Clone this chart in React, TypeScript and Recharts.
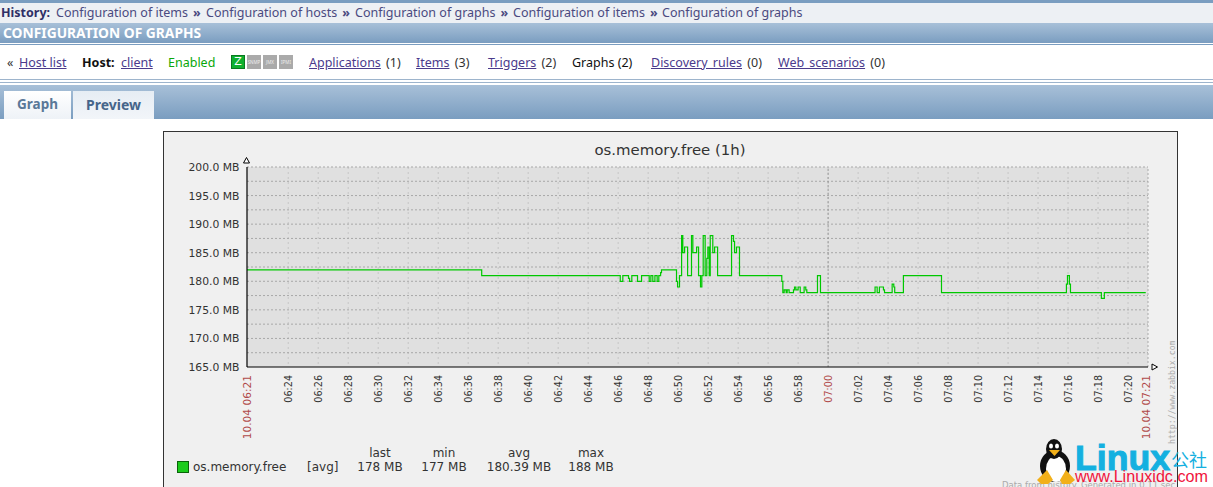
import React from 'react';
import { LineChart, Line, XAxis, YAxis, CartesianGrid, ReferenceLine, Legend } from 'recharts';

// minutes past 06:00 at which the value changes
const minutes = [21.25,36.9,46.14,46.31,46.69,46.76,46.91,47.29,47.56,48.07,48.18,48.31,48.45,48.6,48.71,48.83,48.89,49.89,49.96,50.09,50.23,50.31,50.43,50.63,50.89,50.98,51.23,51.36,51.49,51.58,51.67,51.8,51.91,51.98,52.07,52.14,52.31,52.43,52.63,53.56,53.69,53.76,53.89,54.09,56.91,56.98,57.07,57.2,57.27,57.4,57.69,57.76,57.85,58,58.14,58.4,58.51,58.58,59.29,59.49,63.13,63.27,63.42,63.69,63.76,64.27,64.38,64.44,65.02,67.56,75.89,75.96,76.09,76.16,78.22,78.42,81.18];
const values = [182,181,180,181,180.5,180,181,180,181,180,181,180,181,180,181,181.5,182,180,179,181,188,185,186,181,188,185,186,181,179,181,188,181,184,186,181,188,185,186,181,188,187,185,186,181,180,178,178.5,178,178.5,178,178.5,179,178.5,179,178,179,178.5,178,181,178,179,178,179,178.5,178,179.5,179,178,181,178,179.5,181,179.5,178,177,178,178];
const seriesData = minutes.map((t, i) => ({ t, v: values[i] }));

const xMin = 21.25, xMax = 81.33;
const evenMinutes = [24,26,28,30,32,34,36,38,40,42,44,46,48,50,52,54,56,58,60,62,64,66,68,70,72,74,76,78,80];
const gridH = [167.5,170,172.5,175,177.5,180,182.5,185,187.5,190,192.5,195,197.5,200];
const yTicks = [165,170,175,180,185,190,195,200];
const fmtMinute = (m: number) => m < 60 ? `06:${String(m).padStart(2,'0')}` : `07:${String(m-60).padStart(2,'0')}`;
const edgeLabels: Record<string,string> = { '21.25': '10.04 06:21', '81.25': '10.04 07:21' };
const xTicks = [21.25, ...evenMinutes, 81.25];
const legendHead = ['last','min','avg','max'];
const legendVals = ['178 MB','177 MB','180.39 MB','188 MB'];
const legendX = [380,444,519,591];
const crumbs = ['Configuration of items','Configuration of hosts','Configuration of graphs','Configuration of items','Configuration of graphs'];

const CF = '"DejaVu Sans", sans-serif';
const UI = '"Noto Sans", sans-serif';
const red = '#b04a4a';

const XTick = (p: any) => {
  const v = p.payload.value;
  const edge = edgeLabels[String(v)];
  const isRed = !!edge || v === 60;
  return <text transform={`translate(${p.x + 3.5},375) rotate(-90)`} textAnchor="end" fontFamily={CF} fontSize={edge ? 10.6 : 9.6} fill={isRed ? red : '#333'}>{edge || fmtMinute(v)}</text>;
};
const YTick = (p: any) => <text x={239.5} y={p.y + 4} textAnchor="end" fontFamily={CF} fontSize={10.8} fill="#333">{p.payload.value.toFixed(1)} MB</text>;

const LegendBox = () => (
  <div style={{ position: 'absolute', left: 0, top: 0, width: 1213, height: 487, fontFamily: CF, fontSize: 12, color: '#333', pointerEvents: 'none' }}>
    <div style={{ position: 'absolute', left: 177, top: 461, width: 10, height: 10, background: '#1ccc1c', border: '1px solid #0a640a' }} />
    <div style={{ position: 'absolute', left: 193, top: 460 }}>os.memory.free</div>
    <div style={{ position: 'absolute', left: 307, top: 460 }}>[avg]</div>
    {legendHead.map((h, i) => <div key={h} style={{ position: 'absolute', left: legendX[i] - 40, width: 80, textAlign: 'center', top: 446 }}>{h}</div>)}
    {legendVals.map((h, i) => <div key={h} style={{ position: 'absolute', left: legendX[i] - 40, width: 80, textAlign: 'center', top: 460 }}>{h}</div>)}
  </div>
);

const link: React.CSSProperties = { color: '#4a3a8c', textDecoration: 'underline' };
const abs = (left: number, top: number, extra: React.CSSProperties = {}): React.CSSProperties => ({ position: 'absolute', left, top, whiteSpace: 'nowrap', ...extra });
const band = 'linear-gradient(#a8c0d8, #7a9dc0)';
const navItems: [string, string, number][] = [['Applications',' (1)',309],['Items',' (3)',416],['Triggers',' (2)',488],['Discovery rules',' (0)',651],['Web scenarios',' (0)',778]];
const crumbX = [56,206,355,513,662];
const statusBoxes = ['SNMP','JMX','IPMI'];

export default function App() {
  return (
    <div style={{ position: 'absolute', left: 0, top: 0, width: 1213, height: 487, overflow: 'hidden', background: '#fff', fontFamily: UI, fontSize: 12.5 }}>
      <div style={abs(0, 0, { width: 1213, height: 3, background: '#7a9dc0' })} />
      <div style={abs(0, 3, { width: 1213, height: 20, background: '#edf0f4' })} />
      <span style={abs(1, 4, { color: '#2f2f66', fontWeight: 700 })}>History:</span>
      {crumbs.map((c, i) => <span key={i} style={abs(crumbX[i], 4, { color: '#4a4a80' })}>{c}{i < 4 ? <b style={{ marginLeft: 5 }}>»</b> : null}</span>)}
      <div style={abs(0, 23, { width: 1213, height: 20, background: band })} />
      <span style={abs(3, 23, { color: '#fff', fontWeight: 700, fontSize: 13.8, lineHeight: '19px' })}>CONFIGURATION OF GRAPHS</span>
      <div style={abs(0, 44, { width: 1213, height: 1, background: '#7a9dc0' })} />
      <span style={abs(7, 54, { color: '#333' })}>«</span>
      <span style={abs(19, 54, link)}>Host list</span>
      <span style={abs(82, 54, { fontWeight: 700, color: '#111' })}>Host:</span>
      <span style={abs(121, 54, link)}>client</span>
      <span style={abs(168, 54, { color: '#0aa70a' })}>Enabled</span>
      <div style={abs(231, 55, { width: 12, height: 12, background: '#10b030', border: '1px solid #0a7a20', color: '#fff', fontSize: 11, lineHeight: '12px', textAlign: 'center', fontFamily: CF })}>Z</div>
      {statusBoxes.map((s, i) => <div key={s} style={abs(247 + i * 16, 55, { width: 14, height: 14, background: '#aaa', color: '#eee', fontSize: 4.5, lineHeight: '14px', textAlign: 'center', overflow: 'hidden' })}>{s}</div>)}
      {navItems.map(([a, b, x]) => <span key={a} style={abs(x, 54, { color: '#333', wordSpacing: 2 })}><span style={link}>{a}</span>{b}</span>)}
      <span style={abs(572, 54, { color: '#111' })}>Graphs (2)</span>
      <div style={abs(0, 79, { width: 1213, height: 1, background: '#9db4cc' })} />
      <div style={abs(0, 82, { width: 1213, height: 1, background: '#9db4cc' })} />
      <div style={abs(0, 85, { width: 1213, height: 34, background: band })} />
      <div style={abs(4, 91, { width: 67, height: 28, background: 'linear-gradient(#fff,#eef2f7)', color: '#5a7898', fontWeight: 700, textAlign: 'center', lineHeight: '27px', fontSize: 13.5 })}>Graph</div>
      <div style={abs(73, 91, { width: 81, height: 28, background: 'linear-gradient(#e6edf4,#f2f5f9)', color: '#46658a', fontWeight: 700, textAlign: 'center', lineHeight: '27px', fontSize: 14 })}>Preview</div>

      <div style={abs(163, 131, { width: 1013, height: 400, background: '#f0f0f0', border: '1px solid #333' })} />
      <div style={abs(163, 141, { width: 1014, textAlign: 'center', fontFamily: CF, fontSize: 14.9, color: '#333' })}>os.memory.free (1h)</div>

      <div style={{ position: 'absolute', left: 0, top: 0 }}>
        <LineChart width={1213} height={487} data={seriesData} margin={{ left: 187, right: 65, top: 167, bottom: 10 }}>
          <CartesianGrid fill="#e0e0e0" stroke="none" horizontal={false} vertical={false} />
          <CartesianGrid horizontal={false} verticalValues={evenMinutes} stroke="#c6c6c6" strokeDasharray="2 3" />
          <CartesianGrid vertical={false} horizontalValues={gridH} stroke="#a8a8a8" strokeDasharray="2 2" />
          <ReferenceLine x={60} stroke="#999" strokeDasharray="2 2" />
          <ReferenceLine x={xMax} stroke="#aaa" strokeDasharray="2 2" />
          <XAxis dataKey="t" type="number" domain={[xMin, xMax]} ticks={xTicks} interval={0} height={110} tick={<XTick />} tickLine={false} axisLine={{ stroke: '#000', strokeWidth: 1.2 }} allowDataOverflow />
          <YAxis type="number" domain={[165, 200]} ticks={yTicks} interval={0} width={60} tick={<YTick />} tickLine={false} axisLine={{ stroke: '#000', strokeWidth: 1.2 }} />
          <Legend content={<LegendBox />} wrapperStyle={{ position: 'absolute', left: 0, top: 0, width: 1213, height: 0 }} />
          <Line dataKey="v" type="stepAfter" stroke="#00c800" strokeWidth={1.2} dot={false} activeDot={false} isAnimationActive={false} />
        </LineChart>
      </div>

      <svg width={1213} height={487} style={{ position: 'absolute', left: 0, top: 0, pointerEvents: 'none' }}>
        <polygon points="243.5,163 249.5,163 246.5,157.5" fill="#fff" stroke="#000" />
        <polygon points="1152,364 1152,370 1157.5,367" fill="#fff" stroke="#000" />
        <text transform="translate(1175,444) rotate(-90)" fontFamily="'DejaVu Sans Mono', monospace" fontSize={8.2} fill="#aaa">http://www.zabbix.com</text>
        <text x={1002} y={488} fontFamily={CF} fontSize={8.5} fill="#aaa">Data from history. Generated in 0.11 sec</text>
        <g>
          <ellipse cx={1055} cy={466} rx={15} ry={16} fill="#111" />
          <ellipse cx={1056} cy={469} rx={10} ry={13} fill="#fff" />
          <ellipse cx={1054} cy={449} rx={8} ry={10} fill="#111" />
          <ellipse cx={1051} cy={446} rx={2} ry={2.5} fill="#fff" />
          <ellipse cx={1057} cy={446} rx={2} ry={2.5} fill="#fff" />
          <polygon points="1049,450 1060,450 1054.5,456" fill="#f2b01a" />
          <polygon points="1037,480 1047,470 1053,480 1048,484 1041,484" fill="#f2b01a" />
          <polygon points="1060,480 1066,470 1075,480 1070,484 1062,484" fill="#f2b01a" />
        </g>
        <text x={1075} y={470} fontFamily="'Liberation Sans', sans-serif" fontWeight={700} fontSize={35} fill="#14b0e0" stroke="#14b0e0" strokeWidth={1} textLength={95} lengthAdjust="spacingAndGlyphs">Linux</text>
        <text x={1171} y={467} fontFamily="'Noto Sans CJK SC', sans-serif" fontSize={18} fill="#14b0e0">公社</text>
        <text x={1075} y={482} fontFamily="'Liberation Sans', sans-serif" fontSize={16.5} fill="#f0143c" textLength={133} lengthAdjust="spacingAndGlyphs">www.Linuxidc.com</text>
      </svg>
    </div>
  );
}
